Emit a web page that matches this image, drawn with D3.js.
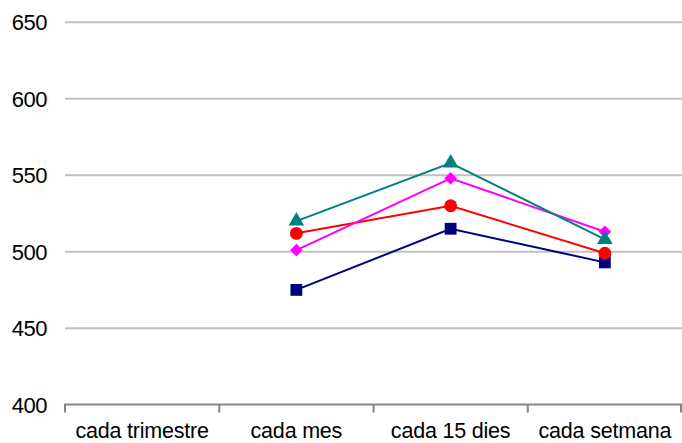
<!DOCTYPE html>
<html><head><meta charset="utf-8">
<script src="https://cdn.jsdelivr.net/npm/d3@7"></script>
<style>body{margin:0;background:#fff}svg{display:block}</style>
</head><body>
<svg id="c" width="682" height="443"></svg>
<script>
const categories = ["cada trimestre", "cada mes", "cada 15 dies", "cada setmana"];
const yTicks = [400, 450, 500, 550, 600, 650];
const seriesNavy = [null, 475, 515, 493];
const seriesRed = [null, 512, 530, 499];
const seriesMagenta = [null, 501, 548, 513];
const seriesTeal = [null, 520, 558, 508];

const series = [
  {values: seriesNavy, color: "#000080", symbol: d3.symbolSquare, size: 140, rot: 0},
  {values: seriesRed, color: "#ff0000", symbol: d3.symbolCircle, size: 130, rot: 0},
  {values: seriesMagenta, color: "#ff00ff", symbol: d3.symbolSquare, size: 80, rot: 45},
  {values: seriesTeal, color: "#008080", symbol: d3.symbolTriangle, size: 105, rot: 0}
];

const svg = d3.select("#c");
const x = d3.scaleBand().domain(categories).range([65, 682]);
const y = d3.scaleLinear().domain([400, 650]).range([404.6, 22.3]);

// gridlines
svg.append("g").selectAll("line").data(yTicks.filter(t => t > 400)).join("line")
  .attr("x1", 65).attr("x2", 682)
  .attr("y1", d => y(d)).attr("y2", d => y(d))
  .attr("stroke", "#c0c0c0").attr("stroke-width", 2);

// y labels
svg.append("g").selectAll("text").data(yTicks).join("text")
  .attr("x", 47).attr("y", d => y(d) + 8)
  .attr("text-anchor", "end")
  .attr("font-family", "Liberation Sans, Arial, sans-serif")
  .attr("font-size", 22).attr("letter-spacing", -0.5)
  .attr("fill", "#000")
  .text(d => d);

// x axis
const xAxis = svg.append("g");
xAxis.append("line").attr("x1", 64).attr("x2", 682)
  .attr("y1", y(400)).attr("y2", y(400))
  .attr("stroke", "#868686").attr("stroke-width", 2);
const bounds = categories.map(c => x(c)).concat([x(categories[categories.length-1]) + x.bandwidth()]);
xAxis.selectAll("line.tick").data(bounds).join("line").attr("class", "tick")
  .attr("x1", d => Math.min(d, 681)).attr("x2", d => Math.min(d, 681))
  .attr("y1", y(400)).attr("y2", y(400) + 8)
  .attr("stroke", "#868686").attr("stroke-width", 2);
xAxis.selectAll("text").data(categories).join("text")
  .attr("x", d => x(d) + x.bandwidth() / 2).attr("y", 438)
  .attr("text-anchor", "middle")
  .attr("font-family", "Liberation Sans, Arial, sans-serif")
  .attr("font-size", 21.5).attr("letter-spacing", -0.2)
  .attr("fill", "#000")
  .text(d => d);

const line = d3.line()
  .defined(d => d.v != null)
  .x(d => x(d.c) + x.bandwidth() / 2)
  .y(d => y(d.v));

series.forEach(s => {
  const pts = categories.map((c, i) => ({c, v: s.values[i]}));
  const g = svg.append("g");
  g.append("path").datum(pts).attr("d", line)
    .attr("fill", "none").attr("stroke", s.color).attr("stroke-width", 2);
  g.selectAll("path.m").data(pts.filter(p => p.v != null)).join("path").attr("class", "m")
    .attr("d", d3.symbol().type(s.symbol).size(s.size))
    .attr("transform", d => `translate(${x(d.c) + x.bandwidth() / 2},${y(d.v)}) rotate(${s.rot})`)
    .attr("fill", s.color);
});
</script>
</body></html>
